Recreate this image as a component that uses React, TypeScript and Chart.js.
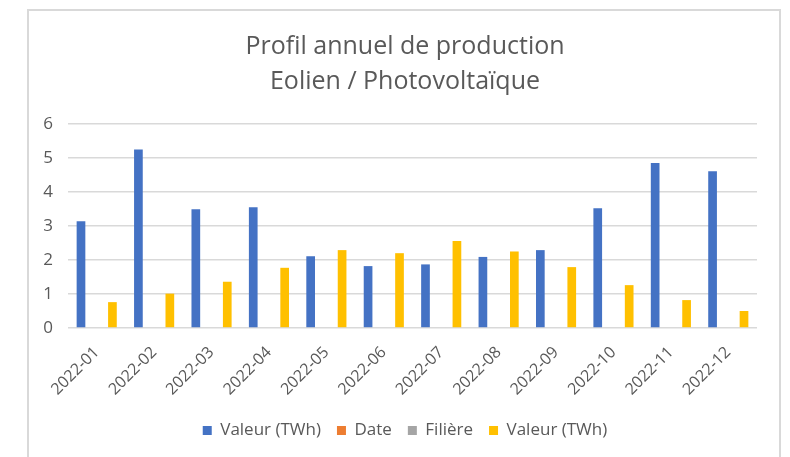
import React, { useEffect, useRef } from "react";
import { Chart, registerables } from "chart.js";

Chart.register(...registerables);

const categories = [
  "2022-01", "2022-02", "2022-03", "2022-04", "2022-05", "2022-06",
  "2022-07", "2022-08", "2022-09", "2022-10", "2022-11", "2022-12",
];
const eolienValues = [3.14, 5.25, 3.49, 3.55, 2.11, 1.82, 1.87, 2.09, 2.29, 3.52, 4.85, 4.61];
const dateValues: (number | null)[] = [];
const filiereValues: (number | null)[] = [];
const solaireValues = [0.76, 1.01, 1.36, 1.77, 2.29, 2.2, 2.56, 2.25, 1.79, 1.26, 0.82, 0.5];
const seriesNames = ["Valeur (TWh)", "Date", "Filière", "Valeur (TWh)"];
const titleLines = ["Profil annuel de production", "Eolien / Photovoltaïque"];
const yTicks = [0, 1, 2, 3, 4, 5, 6];

const FONT = '"Open Sans", sans-serif';
const TEXT = "#595959";

export default function App() {
  const ref = useRef<HTMLCanvasElement | null>(null);

  useEffect(() => {
    if (!ref.current) return;
    const colors = ["#4472C4", "#ED7D31", "#A5A5A5", "#FFC000"];
    const values = [eolienValues, dateValues, filiereValues, solaireValues];
    const chart = new Chart(ref.current, {
      type: "bar",
      data: {
        labels: categories,
        datasets: values.map((v, i) => ({
          label: seriesNames[i],
          data: v,
          backgroundColor: colors[i],
          borderWidth: 0,
          categoryPercentage: 0.73,
          barPercentage: 0.83,
          yAxisID: "y",
        })),
      },
      options: {
        animation: false,
        responsive: false,
        maintainAspectRatio: false,
        layout: { padding: { left: 42, right: 22, top: 10, bottom: 8 } },
        plugins: {
          title: {
            display: true,
            text: titleLines,
            color: TEXT,
            font: { family: FONT, size: 25, weight: "normal", lineHeight: 1.4 },
            padding: { top: 19, bottom: 25 },
          },
          legend: {
            position: "bottom",
            labels: {
              color: TEXT,
              font: { family: FONT, size: 17 },
              boxWidth: 9,
              boxHeight: 9,
              padding: 16,
            },
          },
          tooltip: { enabled: false },
        },
        scales: {
          x: {
            grid: { display: false },
            border: { display: false },
            ticks: {
              color: TEXT,
              font: { family: FONT, size: 16 },
              minRotation: 45,
              maxRotation: 45,
              autoSkip: false,
              padding: 7,
            },
          },
          y: {
            min: 0,
            max: 6,
            afterFit: (s: any) => { s.width = 26; },
            afterBuildTicks: (s: any) => { s.ticks = yTicks.map((v) => ({ value: v })); },
            grid: { color: "#D9D9D9", drawTicks: false, lineWidth: 1.5 },
            border: { display: false },
            ticks: {
              color: TEXT,
              font: { family: FONT, size: 17 },
              padding: 15,
            },
          },
          spacer: {
            type: "linear",
            position: "right",
            display: true,
            afterFit: (s: any) => { s.width = 11; },
            grid: { display: false, drawTicks: false },
            border: { display: false },
            ticks: { display: false },
          },
        },
      },
    });
    return () => chart.destroy();
  }, []);

  return (
    <div style={{ position: "absolute", left: 0, top: 0, width: 790, height: 457, background: "#fff", overflow: "hidden" }}>
      <div
        style={{
          position: "absolute",
          left: 27,
          top: 9,
          width: 750,
          height: 460,
          borderTop: "2px solid #D9D9D9",
          borderLeft: "2px solid #D9D9D9",
          borderRight: "2px solid #D9D9D9",
        }}
      />
      <canvas ref={ref} width={790} height={457} style={{ position: "absolute", left: 0, top: 0 }} />
    </div>
  );
}
